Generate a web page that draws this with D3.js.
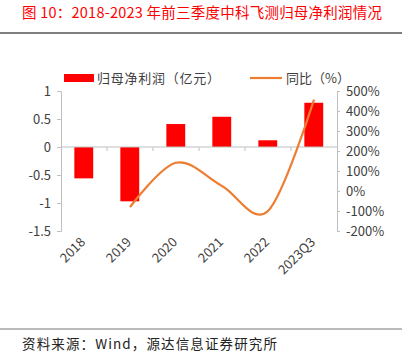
<!DOCTYPE html>
<html>
<head>
<meta charset="utf-8">
<script src="https://cdn.jsdelivr.net/npm/d3@7"></script>
<style>
  body { margin: 0; background: #fff; }
  svg { display: block; font-family: "Noto Sans CJK SC", "Noto Sans", sans-serif; }
</style>
</head>
<body>
<svg id="chart" width="405" height="354"></svg>
<script>
const years = ['2018', '2019', '2020', '2021', '2022', '2023Q3'];
const profit = [-0.56, -0.97, 0.41, 0.54, 0.12, 0.79];
const yoy = [null, -80, 141, 25, -100, 457];
const leftTicks = [1, 0.5, 0, -0.5, -1, -1.5];
const rightTicks = [500, 400, 300, 200, 100, 0, -100, -200];

const svg = d3.select('#chart');
const width = +svg.attr('width');
const height = +svg.attr('height');

const margin = { top: 91, right: 68, bottom: 123, left: 61 };
const innerWidth = width - margin.left - margin.right;
const innerHeight = height - margin.top - margin.bottom;

// title + rules
svg.append('text')
  .attr('x', 22).attr('y', 18)
  .attr('fill', '#ff0000')
  .attr('font-size', 14.5)
  .attr('textLength', 360)
  .attr('lengthAdjust', 'spacing')
  .text('图 10：2018-2023 年前三季度中科飞测归母净利润情况');

svg.append('line')
  .attr('x1', 0).attr('x2', 402).attr('y1', 33).attr('y2', 33)
  .attr('stroke', '#555').attr('stroke-width', 1.5);

svg.append('line')
  .attr('x1', 0).attr('x2', 402).attr('y1', 329).attr('y2', 329)
  .attr('stroke', '#777').attr('stroke-width', 1.2);

svg.append('text')
  .attr('x', 22).attr('y', 349)
  .attr('fill', '#222')
  .attr('font-size', 13.5)
  .attr('textLength', 255)
  .attr('lengthAdjust', 'spacing')
  .text('资料来源：Wind，源达信息证券研究所');

const g = svg.append('g')
  .attr('transform', `translate(${margin.left}, ${margin.top})`);

const xScale = d3.scaleBand()
  .domain(years)
  .range([0, innerWidth]);

const yLeft = d3.scaleLinear()
  .domain([-1.5, 1])
  .range([innerHeight, 0]);

const yRight = d3.scaleLinear()
  .domain([-200, 500])
  .range([innerHeight, 0]);

const axisStyle = AxisG => {
  AxisG.selectAll('.domain').attr('stroke', '#bfbfbf');
  AxisG.selectAll('line').attr('stroke', '#bfbfbf');
  AxisG.selectAll('text')
    .attr('fill', '#404040')
    .attr('font-size', 13)
    .attr('font-family', '"Noto Sans CJK SC", sans-serif');
};

// left axis
g.append('g')
  .call(d3.axisLeft(yLeft).tickValues(leftTicks).tickSize(4).tickPadding(6)
    .tickFormat(d => String(d)))
  .call(axisStyle);

// right axis
g.append('g')
  .attr('transform', `translate(${innerWidth}, 0)`)
  .call(d3.axisRight(yRight).tickValues(rightTicks).tickSize(3).tickPadding(6)
    .tickFormat(d => d + '%'))
  .call(axisStyle);

// bars
g.selectAll('.bar').data(years)
  .enter().append('rect')
    .attr('class', 'bar')
    .attr('x', d => xScale(d) + xScale.bandwidth() * 0.29)
    .attr('width', xScale.bandwidth() * 0.41)
    .attr('y', (d, i) => yLeft(Math.max(0, profit[i])))
    .attr('height', (d, i) => Math.abs(yLeft(profit[i]) - yLeft(0)))
    .attr('fill', '#ff0000');

// zero line with category ticks
const zeroG = g.append('g')
  .attr('transform', `translate(0, ${yLeft(0)})`);
zeroG.append('line')
  .attr('x1', 0).attr('x2', innerWidth)
  .attr('stroke', '#bfbfbf');
zeroG.selectAll('.ctick').data(years.slice(1))
  .enter().append('line')
    .attr('x1', d => xScale(d)).attr('x2', d => xScale(d))
    .attr('y1', 0).attr('y2', 4)
    .attr('stroke', '#bfbfbf');

// category labels
g.append('g')
  .selectAll('text').data(years)
  .enter().append('text')
    .attr('transform', d =>
      `translate(${xScale(d) + xScale.bandwidth() / 2 + 2}, ${innerHeight + 12}) rotate(-45)`)
    .attr('text-anchor', 'end')
    .attr('fill', '#404040')
    .attr('font-size', 13)
    .text(d => d);

// yoy line
const lineData = years.map((d, i) => [d, yoy[i]]).filter(d => d[1] !== null);
const line = d3.line()
  .x(d => xScale(d[0]) + xScale.bandwidth() / 2)
  .y(d => yRight(d[1]))
  .curve(d3.curveCardinal.tension(0));

g.append('path')
  .attr('d', line(lineData))
  .attr('fill', 'none')
  .attr('stroke', '#ed7d31')
  .attr('stroke-width', 2.2);

// legend
const legend = svg.append('g');
legend.append('rect')
  .attr('x', 64).attr('y', 74).attr('width', 30).attr('height', 8)
  .attr('fill', '#ff0000');
legend.append('text')
  .attr('x', 97).attr('y', 83)
  .attr('fill', '#404040').attr('font-size', 13)
  .attr('textLength', 123)
  .attr('lengthAdjust', 'spacing')
  .text('归母净利润（亿元）');
legend.append('line')
  .attr('x1', 250).attr('x2', 282).attr('y1', 78).attr('y2', 78)
  .attr('stroke', '#ed7d31').attr('stroke-width', 2.2);
legend.append('text')
  .attr('x', 286).attr('y', 83)
  .attr('fill', '#404040').attr('font-size', 13)
  .text('同比（%）');
</script>
</body>
</html>
